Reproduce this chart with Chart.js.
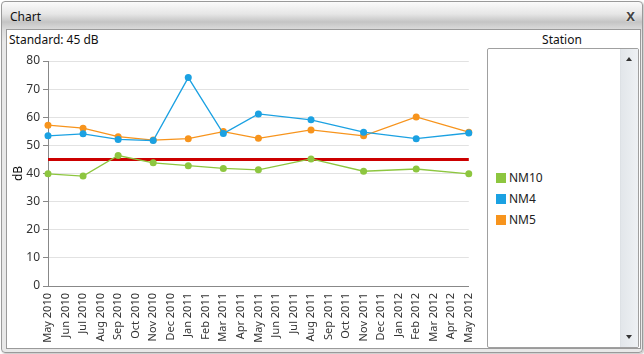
<!DOCTYPE html>
<html>
<head>
<meta charset="utf-8">
<script src="https://cdn.jsdelivr.net/npm/chart.js@4"></script>
<style>
    html, body { margin: 0; padding: 0; background: #fff; }
    body { width: 644px; height: 354px; position: relative; overflow: hidden; font-family: 'Noto Sans', sans-serif; }
    .win {
        position: absolute; left: 1px; top: 1px; width: 640px; height: 350px;
        border: 1px solid #9a9a9a; border-radius: 4px;
        background: linear-gradient(#fbfbfb 0px, #e6e6e6 12px, #c4c4c4 20px, #dadada 27px, #e8e8e8 40px);
        box-shadow: 1px 1px 2px rgba(0,0,0,0.25);
    }
    .title { position: absolute; left: 8px; top: 6px; font-size: 12px; color: #111; }
    .close { position: absolute; right: 7px; top: 5px; font-size: 13px; font-weight: bold; color: #444; text-shadow: 0 0 2px #fff; }
    .panel { position: absolute; left: 4px; top: 27px; width: 633px; height: 318px; background: #fff; border: 1px solid #9a9a9a; }
    .standard { position: absolute; left: 2px; top: 1px; font-size: 12px; color: #111; }
    .station { position: absolute; left: 480px; width: 150px; top: 1px; text-align: center; font-size: 12px; color: #111; }
    .legend { position: absolute; left: 480px; top: 18px; width: 150px; height: 298px; border: 1px solid #a0a0a0; border-radius: 2px; background: #fff; }
    .scroll { position: absolute; right: 0; top: 0; width: 17px; height: 100%; background: linear-gradient(90deg, #e2e6ea, #eef1f4); border-left: 1px solid #dde1e5; }
    .arrow-up, .arrow-down { position: absolute; left: 5px; width: 0; height: 0; border-left: 3px solid transparent; border-right: 3px solid transparent; }
    .arrow-up { top: 8px; border-bottom: 4px solid #333; }
    .arrow-down { bottom: 8px; border-top: 4px solid #333; }
    .items { position: absolute; left: 8px; top: 118px; }
    .item { height: 21px; display: flex; align-items: center; font-size: 12px; color: #222; }
    .swatch { width: 10px; height: 10px; margin-right: 3px; }
    #chartWrap { position: absolute; left: -1px; top: 17px; width: 478px; height: 302px; }
</style>
</head>
<body>
<div class="win">
    <div class="title">Chart</div>
    <div class="close">X</div>
    <div class="panel">
        <div class="standard">Standard: 45 dB</div>
        <div class="station">Station</div>
        <div class="legend">
            <div class="items" id="legendItems"></div>
            <div class="scroll"><div class="arrow-up"></div><div class="arrow-down"></div></div>
        </div>
        <div id="chartWrap"><canvas id="chart" width="478" height="302"></canvas></div>
    </div>
</div>
<script>
const months = ['May 2010', 'Jun 2010', 'Jul 2010', 'Aug 2010', 'Sep 2010', 'Oct 2010', 'Nov 2010', 'Dec 2010',
    'Jan 2011', 'Feb 2011', 'Mar 2011', 'Apr 2011', 'May 2011', 'Jun 2011', 'Jul 2011', 'Aug 2011',
    'Sep 2011', 'Oct 2011', 'Nov 2011', 'Dec 2011', 'Jan 2012', 'Feb 2012', 'Mar 2012', 'Apr 2012', 'May 2012'];

// null = no measurement that month (line spans the gap)
const nm10 = [39.9, null, 39.1, null, 46.4, null, 43.8, null, 42.8, null, 41.8, null, 41.3, null, null, 45.2,
    null, null, 40.8, null, null, 41.6, null, null, 39.9];
const nm4 = [53.4, null, 54.1, null, 52.1, null, 51.7, null, 74.1, null, 54.2, null, 61.2, null, null, 59.1,
    null, null, 54.7, null, null, 52.4, null, null, 54.4];
const nm5 = [57.2, null, 56.1, null, 53.1, null, 51.9, null, 52.4, null, 54.9, null, 52.5, null, null, 55.5,
    null, null, 53.4, null, null, 60.1, null, null, 54.7];

const standardLevel = 45;
const stationNames = ['NM10', 'NM4', 'NM5'];
const stationColors = ['#8dc63f', '#1ba1e2', '#f7941d'];
const yTicks = [0, 10, 20, 30, 40, 50, 60, 70, 80];

// HTML legend
const legendItems = document.getElementById('legendItems');
stationNames.forEach((name, i) => {
    const row = document.createElement('div');
    row.className = 'item';
    row.innerHTML = '<div class="swatch" style="background:' + stationColors[i] + '"></div>' + name;
    legendItems.appendChild(row);
});

const series = [nm10, nm4, nm5];
const datasets = series.map((values, i) => ({
    label: stationNames[i],
    data: values,
    borderColor: stationColors[i],
    backgroundColor: stationColors[i],
    borderWidth: 1.3,
    pointRadius: 3.5,
    pointBorderWidth: 0,
    spanGaps: true,
    tension: 0,
    order: 1
}));

datasets.push({
    label: 'Standard',
    data: months.map(() => standardLevel),
    borderColor: '#cc0000',
    borderWidth: 3,
    pointRadius: 0,
    order: 2
});

Chart.defaults.font.family = "'Noto Sans', sans-serif";
Chart.defaults.color = '#333';

new Chart(document.getElementById('chart'), {
    type: 'line',
    data: { labels: months, datasets: datasets },
    options: {
        responsive: false,
        animation: false,
        layout: { padding: { top: 14, right: 15, left: 0, bottom: 0 } },
        plugins: { legend: { display: false }, tooltip: { enabled: false } },
        scales: {
            x: {
                offset: false,
                grid: { display: false, drawOnChartArea: false, tickLength: 5, color: '#888' },
                border: { color: '#888', width: 1 },
                ticks: { autoSkip: false, maxRotation: 90, minRotation: 90, font: { size: 11 }, padding: 2, color: '#333' },
                afterFit: (scale) => { scale.height = 63; }
            },
            y: {
                min: 0, max: 80,
                afterBuildTicks: (scale) => { scale.ticks = yTicks.map(v => ({ value: v })); },
                grid: { color: '#e2e2e2', tickLength: 5, tickColor: '#888' },
                border: { color: '#888', width: 1 },
                ticks: { font: { size: 12 }, padding: 3, color: '#333' },
                title: { display: true, text: 'dB', font: { size: 12 }, color: '#111', padding: { top: 5, bottom: 0 } },
                afterFit: (scale) => { scale.width = 42; }
            }
        }
    }
});
</script>
</body>
</html>
